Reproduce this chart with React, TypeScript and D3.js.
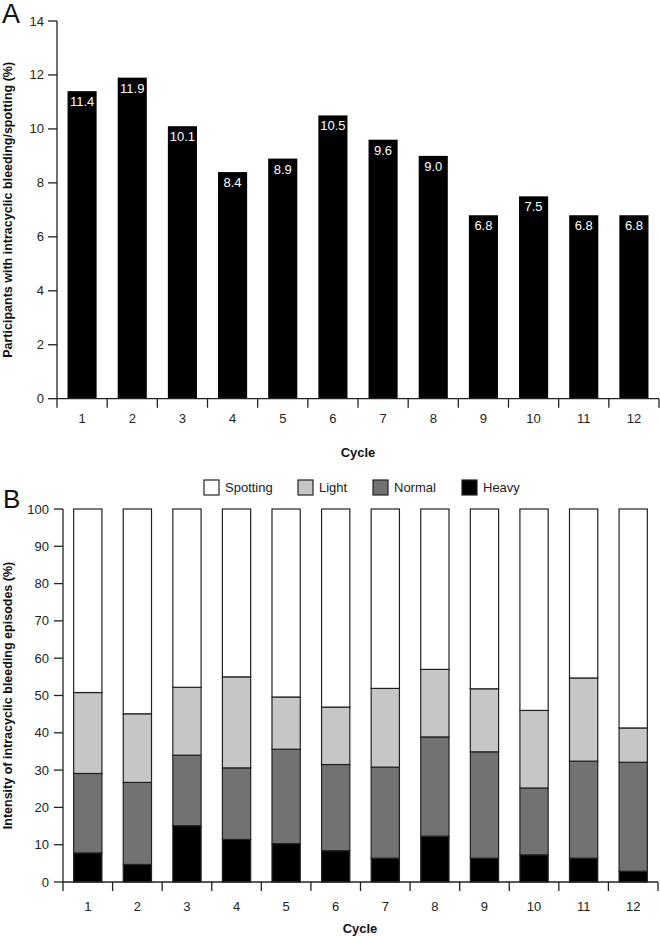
import React from "react";
import * as d3 from "d3";

const cycles = ["1", "2", "3", "4", "5", "6", "7", "8", "9", "10", "11", "12"];
const participants = [11.4, 11.9, 10.1, 8.4, 8.9, 10.5, 9.6, 9.0, 6.8, 7.5, 6.8, 6.8];
const topTicks = [0, 2, 4, 6, 8, 10, 12, 14];

const heavy = [7.8, 4.7, 15.1, 11.4, 10.3, 8.4, 6.4, 12.3, 6.4, 7.3, 6.4, 2.9];
const normal = [21.3, 22.0, 18.9, 19.2, 25.3, 23.1, 24.4, 26.6, 28.5, 17.9, 26.0, 29.2];
const light = [21.7, 18.4, 18.2, 24.4, 14.0, 15.4, 21.1, 18.1, 16.9, 20.8, 22.3, 9.2];
const spotting = [49.2, 54.9, 47.8, 45.0, 50.4, 53.1, 48.1, 43.0, 48.2, 54.0, 45.3, 58.7];
const bottomTicks = [0, 10, 20, 30, 40, 50, 60, 70, 80, 90, 100];

const seriesKeys = ["Heavy", "Normal", "Light", "Spotting"];
const legendOrder = ["Spotting", "Light", "Normal", "Heavy"];
const colors: Record<string, string> = {
  Spotting: "#ffffff",
  Light: "#c6c6c6",
  Normal: "#727272",
  Heavy: "#000000",
};

const FONT = "'Liberation Sans', Arial, Helvetica, sans-serif";
const AX = "#222";

export default function App() {
  // Top chart scales
  const xA = d3.scaleBand<string>().domain(cycles).range([57, 659]).paddingInner(0.42).paddingOuter(0.21);
  const yA = d3.scaleLinear().domain([0, 14]).range([398.7, 21]);
  const stepA = xA.step();

  // Bottom chart scales
  const xB = d3.scaleBand<string>().domain(cycles).range([63, 658]).paddingInner(0.43).paddingOuter(0.215);
  const yB = d3.scaleLinear().domain([0, 100]).range([882, 509]);
  const stepB = xB.step();

  const table = cycles.map((c, i) => ({
    cycle: c,
    Heavy: heavy[i],
    Normal: normal[i],
    Light: light[i],
    Spotting: spotting[i],
  }));
  const stack = d3.stack<any>().keys(seriesKeys)(table);

  const boundsA = cycles.map((c) => (xA(c) as number) - (stepA * 0.42) / 2).concat([659]);
  const boundsB = cycles.map((c) => (xB(c) as number) - (stepB * 0.43) / 2).concat([658]);

  const legendX: Record<string, number> = { Spotting: 204, Light: 298, Normal: 373, Heavy: 462 };

  return (
    <svg
      width={660}
      height={936}
      style={{ position: "absolute", left: 0, top: 0, background: "#fff" }}
      fontFamily={FONT}
    >
      {/* Panel A */}
      <text x={2} y={23} fontSize={27} fill="#111">A</text>
      {participants.map((v, i) => (
        <g key={"a" + i}>
          <rect
            x={xA(cycles[i])}
            y={yA(v)}
            width={xA.bandwidth()}
            height={yA(0) - yA(v)}
            fill="#000"
          />
          <text
            x={(xA(cycles[i]) as number) + xA.bandwidth() / 2}
            y={yA(v) + 15}
            fontSize={13}
            fill="#fff"
            textAnchor="middle"
          >
            {v.toFixed(1)}
          </text>
        </g>
      ))}
      <line x1={57} x2={57} y1={yA(14)} y2={yA(0)} stroke={AX} strokeWidth={1.3} />
      <line x1={57} x2={659} y1={yA(0)} y2={yA(0)} stroke={AX} strokeWidth={1.3} />
      {topTicks.map((t) => (
        <g key={"ta" + t}>
          <line x1={48} x2={57} y1={yA(t)} y2={yA(t)} stroke={AX} strokeWidth={1.3} />
          <text x={44} y={yA(t) + 4.5} fontSize={13} fill={AX} textAnchor="end">{t}</text>
        </g>
      ))}
      {boundsA.map((b, i) => (
        <line key={"ba" + i} x1={b} x2={b} y1={yA(0)} y2={yA(0) + 9} stroke={AX} strokeWidth={1.3} />
      ))}
      {cycles.map((c) => (
        <text key={"la" + c} x={(xA(c) as number) + xA.bandwidth() / 2} y={423} fontSize={13} fill={AX} textAnchor="middle">{c}</text>
      ))}
      <text x={358} y={457} fontSize={13} fontWeight="bold" fill="#111" textAnchor="middle">Cycle</text>
      <text
        transform={`translate(12, ${(yA(0) + yA(14)) / 2}) rotate(-90)`}
        fontSize={12.5}
        fontWeight="bold"
        fill="#111"
        textAnchor="middle"
      >
        Participants with intracyclic bleeding/spotting (%)
      </text>

      {/* Panel B */}
      <text x={3} y={508} fontSize={26} fill="#111">B</text>
      {legendOrder.map((k) => (
        <g key={"lg" + k}>
          <rect x={legendX[k]} y={480} width={15} height={15} fill={colors[k]} stroke={AX} strokeWidth={1.2} />
          <text x={legendX[k] + 21} y={492} fontSize={13} fill={AX}>{k}</text>
        </g>
      ))}
      {stack.map((s) => (
        <g key={"s" + s.key} fill={colors[s.key]}>
          {s.map((d: any, i: number) => (
            <rect
              key={i}
              x={xB(cycles[i])}
              y={yB(d[1])}
              width={xB.bandwidth()}
              height={yB(d[0]) - yB(d[1])}
              stroke={AX}
              strokeWidth={1.2}
            />
          ))}
        </g>
      ))}
      <line x1={63} x2={63} y1={yB(100)} y2={yB(0)} stroke={AX} strokeWidth={1.3} />
      <line x1={63} x2={658} y1={yB(0)} y2={yB(0)} stroke={AX} strokeWidth={1.3} />
      {bottomTicks.map((t) => (
        <g key={"tb" + t}>
          <line x1={54} x2={63} y1={yB(t)} y2={yB(t)} stroke={AX} strokeWidth={1.3} />
          <text x={49} y={yB(t) + 4.5} fontSize={13} fill={AX} textAnchor="end">{t}</text>
        </g>
      ))}
      {boundsB.map((b, i) => (
        <line key={"bb" + i} x1={b} x2={b} y1={yB(0)} y2={yB(0) + 9} stroke={AX} strokeWidth={1.3} />
      ))}
      {cycles.map((c) => (
        <text key={"lb" + c} x={(xB(c) as number) + xB.bandwidth() / 2} y={911} fontSize={13} fill={AX} textAnchor="middle">{c}</text>
      ))}
      <text x={360} y={933} fontSize={13} fontWeight="bold" fill="#111" textAnchor="middle">Cycle</text>
      <text
        transform={`translate(12, ${(yB(0) + yB(100)) / 2}) rotate(-90)`}
        fontSize={12.5}
        fontWeight="bold"
        fill="#111"
        textAnchor="middle"
      >
        Intensity of intracyclic bleeding episodes (%)
      </text>
    </svg>
  );
}
